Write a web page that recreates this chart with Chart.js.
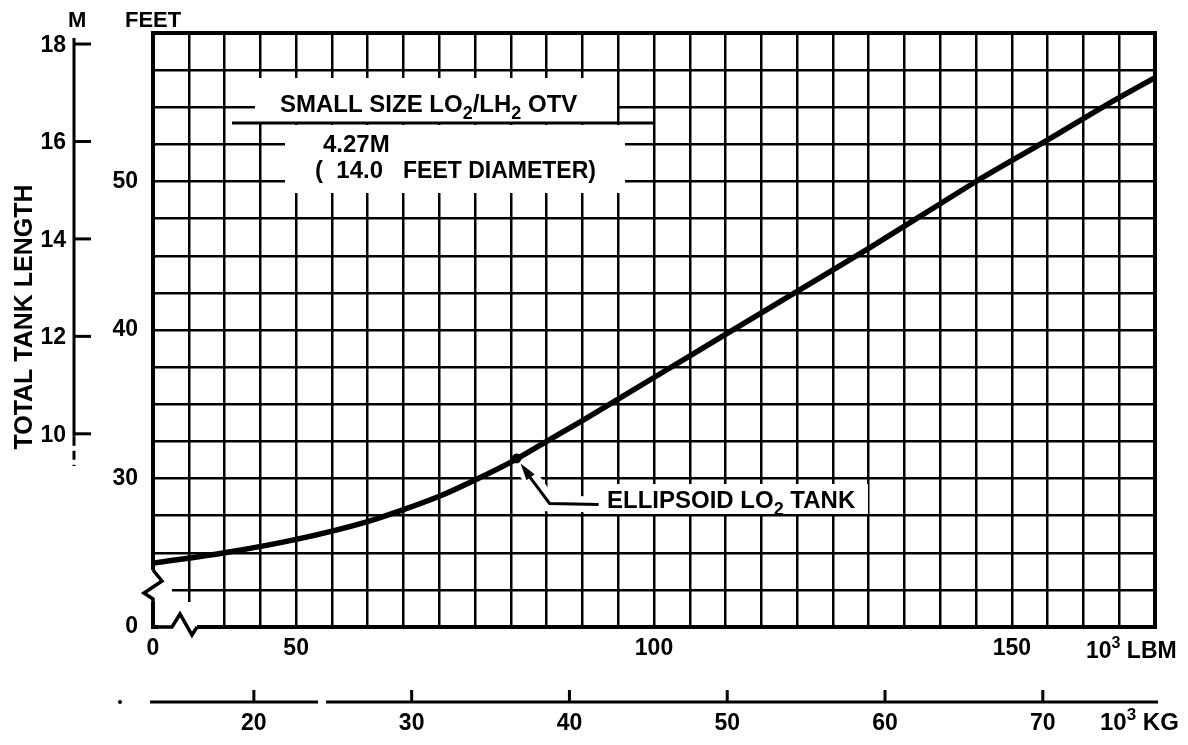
<!DOCTYPE html>
<html>
<head>
<meta charset="utf-8">
<style>
  html, body { margin: 0; padding: 0; background: #fff; }
  #wrap { width: 1188px; height: 745px; }
</style>
<script src="https://cdn.jsdelivr.net/npm/chart.js@4/dist/chart.umd.min.js"></script>
</head>
<body>
<div id="wrap"><canvas id="tankChart" width="1188" height="745"></canvas></div>
<script>
// Total tank length vs propellant mass
const massLbm = [30, 40, 50, 60, 65, 70, 75, 80, 85, 90, 100, 110, 120, 130, 140, 145, 155, 163, 170];   // 10^3 lbm
const lengthFeet = [24.3, 25.0, 25.9, 27.1, 27.9, 28.8, 29.9, 31.1, 32.5, 33.9, 36.8, 39.7, 42.6, 45.5, 48.5, 50.0, 52.8, 55.1, 57.0];

// design point marked on the curve
const ellipsoidMass = [80.8];
const ellipsoidLength = [31.35];

// tick labels (axes are broken, so the low ends read "0")
const lbmTickLabels = { 30: '0', 50: '50', 100: '100', 150: '150' };
const feetTickLabels = { 20: '0', 30: '30', 40: '40', 50: '50' };
const meterTicks = [10, 12, 14, 16, 18];
const kgTicks = [20, 30, 40, 50, 60, 70];

const FT_PER_M = 3.28084;
const LBM_PER_KG = 2.20462;

const FONT = '"Liberation Sans", Arial, sans-serif';
const bold = size => `bold ${size}px ${FONT}`;

// draw text made of runs: [text, 'sub' | 'sup' | undefined]
function drawRuns(ctx, x, y, runs, size) {
    let cx = x;
    runs.forEach(([txt, mode]) => {
        let s = size, dy = 0;
        if (mode === 'sub') { s = Math.round(size * 0.75); dy = size * 0.3; }
        if (mode === 'sup') { s = Math.round(size * 0.7); dy = -size * 0.42; }
        ctx.font = bold(s);
        ctx.fillText(txt, cx, y + dy);
        cx += ctx.measureText(txt).width;
    });
}

const decorPlugin = {
    id: 'decor',
    beforeDatasetsDraw(chart) {
        const ctx = chart.ctx;
        const xs = chart.scales.x, ys = chart.scales.y;
        ctx.save();
        ctx.fillStyle = '#fff';
        // title box knocks out the grid
        ctx.fillRect(255, 78, 362, 45);
        ctx.fillRect(285, 125, 340, 68);
        // callout label
        ctx.fillRect(600, 484, 268, 30);
        // arrow halo
        const mx = xs.getPixelForValue(ellipsoidMass[0]);
        const my = ys.getPixelForValue(ellipsoidLength[0]);
        ctx.strokeStyle = '#fff';
        ctx.lineWidth = 16;
        ctx.beginPath();
        ctx.moveTo(mx + 6, my + 8);
        ctx.lineTo(mx + 33, my + 45);
        ctx.lineTo(mx + 82, my + 46);
        ctx.stroke();
        // axis breaks
        ctx.fillRect(140, 570, 32, 32);
        ctx.fillRect(158, 602, 48, 34);
        ctx.restore();
    },
    afterDatasetsDraw(chart) {
        const ctx = chart.ctx;
        const area = chart.chartArea;
        const xs = chart.scales.x, ys = chart.scales.y;
        ctx.save();
        ctx.strokeStyle = '#000';
        ctx.fillStyle = '#000';
        ctx.lineCap = 'butt';

        // frame
        ctx.lineWidth = 4;
        ctx.beginPath();
        ctx.moveTo(area.left, 570);
        ctx.lineTo(area.left, area.top);
        ctx.lineTo(area.right, area.top);
        ctx.lineTo(area.right, area.bottom);
        ctx.lineTo(197, area.bottom);
        ctx.stroke();

        // break zigzags
        ctx.lineWidth = 3.5;
        ctx.lineJoin = 'miter';
        ctx.beginPath();
        ctx.moveTo(area.left, 570);
        ctx.lineTo(area.left + 9, 581);
        ctx.lineTo(area.left - 9, 593);
        ctx.lineTo(area.left, 599);
        ctx.lineTo(area.left, area.bottom);
        ctx.lineTo(172, area.bottom);
        ctx.lineTo(180, 614);
        ctx.lineTo(192, area.bottom + 8);
        ctx.lineTo(197, area.bottom);
        ctx.stroke();

        // title box
        ctx.lineWidth = 3;
        ctx.beginPath();
        ctx.moveTo(232, 123);
        ctx.lineTo(655, 123);
        ctx.stroke();
        drawRuns(ctx, 280, 112, [['SMALL SIZE LO'], ['2', 'sub'], ['/LH'], ['2', 'sub'], [' OTV']], 24);
        drawRuns(ctx, 323, 152, [['4.27M']], 24);
        drawRuns(ctx, 315, 178, [['(  14.0']], 24);
        drawRuns(ctx, 403, 178, [['FEET DIAMETER)']], 23);

        // callout with arrow
        const mx = xs.getPixelForValue(ellipsoidMass[0]);
        const my = ys.getPixelForValue(ellipsoidLength[0]);
        const tipX = mx + 4, tipY = my + 5;
        ctx.lineWidth = 3;
        ctx.beginPath();
        ctx.moveTo(tipX + 8, tipY + 12);
        ctx.lineTo(mx + 33, my + 45);
        ctx.lineTo(mx + 82, my + 46);
        ctx.stroke();
        const ang = Math.atan2(45 - 5, 33 - 4);
        ctx.beginPath();
        ctx.moveTo(tipX, tipY);
        ctx.lineTo(tipX + 17 * Math.cos(ang) - 5 * Math.sin(ang), tipY + 17 * Math.sin(ang) + 5 * Math.cos(ang));
        ctx.lineTo(tipX + 17 * Math.cos(ang) + 5 * Math.sin(ang), tipY + 17 * Math.sin(ang) - 5 * Math.cos(ang));
        ctx.closePath();
        ctx.fill();
        drawRuns(ctx, 607, 508, [['ELLIPSOID LO'], ['2', 'sub'], [' TANK']], 24);

        // axis headers
        drawRuns(ctx, 68, 27, [['M']], 22);
        drawRuns(ctx, 125, 27, [['FEET']], 22);

        // meter axis, through the feet scale
        const ax = 74;
        const y10 = ys.getPixelForValue(10 * FT_PER_M);
        ctx.lineWidth = 3;
        ctx.beginPath();
        ctx.moveTo(ax, 38);
        ctx.lineTo(ax, y10);
        ctx.stroke();
        ctx.setLineDash([9, 5]);
        ctx.beginPath();
        ctx.moveTo(ax, y10);
        ctx.lineTo(ax, 466);
        ctx.stroke();
        ctx.setLineDash([]);
        ctx.textAlign = 'right';
        meterTicks.forEach(m => {
            const ty = ys.getPixelForValue(m * FT_PER_M) - 3;
            ctx.beginPath();
            ctx.moveTo(ax, ty);
            ctx.lineTo(ax + 17, ty);
            ctx.stroke();
            ctx.font = bold(23);
            ctx.fillText(String(m), 66, ty + 8);
        });

        // y title
        ctx.save();
        ctx.translate(23, 317);
        ctx.rotate(-Math.PI / 2);
        ctx.textAlign = 'center';
        ctx.font = bold(25);
        ctx.fillText('TOTAL TANK LENGTH', 0, 9);
        ctx.restore();

        // kg axis, through the lbm scale
        const ky = 702;
        ctx.lineWidth = 3;
        ctx.beginPath();
        ctx.moveTo(150, ky);
        ctx.lineTo(318, ky);
        ctx.moveTo(326, ky);
        ctx.lineTo(1158, ky);
        ctx.stroke();
        ctx.beginPath();
        ctx.arc(120, ky, 2, 0, Math.PI * 2);
        ctx.fill();
        ctx.textAlign = 'center';
        kgTicks.forEach(kg => {
            const tx = xs.getPixelForValue(kg * LBM_PER_KG);
            ctx.beginPath();
            ctx.moveTo(tx, ky);
            ctx.lineTo(tx, ky - 12);
            ctx.stroke();
            ctx.font = bold(23);
            ctx.fillText(String(kg), tx, 730);
        });
        ctx.textAlign = 'left';
        drawRuns(ctx, 1100, 730, [['10'], ['3', 'sup'], [' KG']], 24);
        drawRuns(ctx, 1086, 658, [['10'], ['3', 'sup'], [' LBM']], 23);
        ctx.restore();
    }
};

new Chart(document.getElementById('tankChart'), {
    type: 'line',
    data: {
        datasets: [
            {
                data: massLbm.map((m, i) => ({ x: m, y: lengthFeet[i] })),
                borderColor: '#000',
                borderWidth: 5.5,
                pointRadius: 0,
                cubicInterpolationMode: 'monotone',
                fill: false
            },
            {
                type: 'scatter',
                data: ellipsoidMass.map((m, i) => ({ x: m, y: ellipsoidLength[i] })),
                backgroundColor: '#000',
                borderColor: '#000',
                pointRadius: 4.5
            }
        ]
    },
    options: {
        responsive: false,
        animation: false,
        layout: { padding: { top: 33, right: 33, left: 0, bottom: 0 } },
        plugins: { legend: { display: false }, tooltip: { enabled: false } },
        scales: {
            x: {
                type: 'linear',
                min: 30,
                max: 170,
                afterFit: s => { s.height = 118; },
                grid: { color: '#000', lineWidth: 2.5, drawTicks: false },
                border: { display: true, color: '#000', width: 4 },
                ticks: {
                    stepSize: 5,
                    autoSkip: false,
                    maxRotation: 0,
                    padding: 8,
                    color: '#000',
                    font: { family: FONT, size: 23, weight: 'bold' },
                    callback: v => lbmTickLabels[v] ?? ''
                }
            },
            y: {
                type: 'linear',
                min: 20,
                max: 60,
                afterFit: s => { s.width = 153; },
                grid: { color: '#000', lineWidth: 2.5, drawTicks: false },
                border: { display: true, color: '#000', width: 4 },
                ticks: {
                    stepSize: 2.5,
                    autoSkip: false,
                    padding: 15,
                    color: '#000',
                    font: { family: FONT, size: 23, weight: 'bold' },
                    callback: v => feetTickLabels[v] ?? ''
                }
            }
        }
    },
    plugins: [decorPlugin]
});
</script>
</body>
</html>
